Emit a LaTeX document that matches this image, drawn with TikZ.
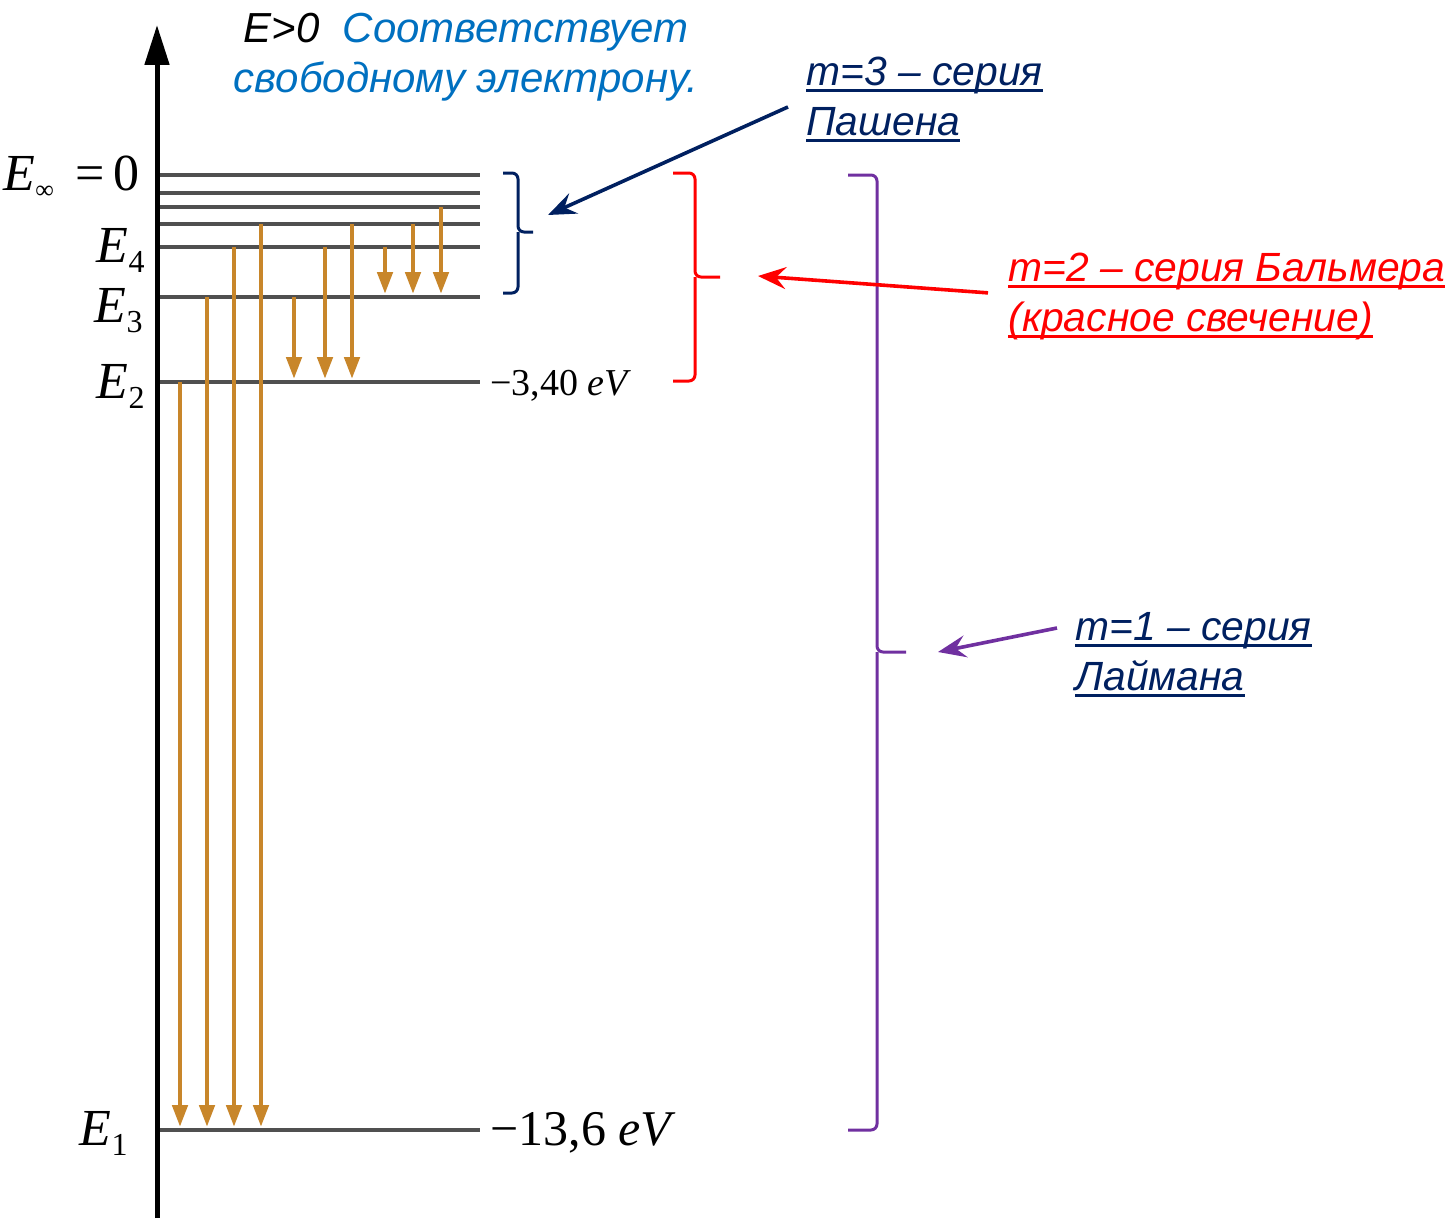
\documentclass[tikz,border=0pt]{standalone}
\usepackage{fontspec}
\setmainfont{Liberation Sans}
\newfontfamily\tms{Liberation Serif}
\usetikzlibrary{arrows.meta,calc,positioning}
\definecolor{navyc}{RGB}{0,32,96}
\definecolor{redc}{RGB}{255,0,0}
\definecolor{purplec}{RGB}{112,48,160}
\definecolor{bluec}{RGB}{0,112,192}
\definecolor{transc}{RGB}{200,134,42}
\definecolor{levelc}{RGB}{80,80,80}
\newsavebox{\ulbox}
\newcommand{\uln}[1]{\sbox{\ulbox}{#1}\rlap{\rule[-3.3pt]{\wd\ulbox}{1.6pt}}\usebox{\ulbox}}
\newcommand{\En}[1]{{\itshape E}\raisebox{-5pt}{\fontsize{16}{16}\selectfont #1}}

\begin{document}
\begin{tikzpicture}[x=0.5pt,y=-0.5pt,
 level/.style={levelc,line width=2pt},
 trans/.style={transc,line width=2.3pt,-{Triangle[length=11pt,width=7.5pt]},shorten >=1.5pt},
 brk/.style={line width=1.5pt,rounded corners=3pt},
 pointer/.style={line width=1.8pt,-{Stealth[length=14pt,width=11pt,inset=5pt]}},
 elab/.style={font=\tms\fontsize{26}{30}\selectfont,inner sep=0pt,anchor=base east},
 ser/.style={font=\fontsize{20.4}{25}\selectfont\itshape,align=left,inner sep=0pt,anchor=north west}]
\useasboundingbox (0,0) rectangle (1455,1220);
% energy axis
\coordinate (ax0) at (157,1218);
\coordinate (ax1) at (157,25);
\draw[line width=2.5pt,-{Triangle[length=20pt,width=12pt]}] (ax0) -- (ax1);
% levels
\foreach \n/\y in {inf/175,a/193,b/207,5/224,4/247,3/297,2/382,1/1130} {
 \coordinate (w\n) at (160,\y);
 \coordinate (e\n) at (480,\y);
 \draw[level] (w\n) -- (e\n);
}
\node[elab] (einf) at (140,190) {{\itshape E}\raisebox{-4pt}{\fontsize{13}{13}\selectfont ∞}\ \,=\,0};
\node[elab] (en4) at (145,262) {\En{4}};
\node[elab] (en3) at (143,322) {\En{3}};
\node[elab] (en2) at (145,398) {\En{2}};
\node[elab] (en1) at (128,1145) {\En{1}};
\node[anchor=base west,inner sep=0pt,font=\tms\fontsize{19}{22}\selectfont] (val2) at (490,395) {−3,40 \textit{eV}};
\node[anchor=base west,inner sep=0pt,font=\tms\fontsize{25}{30}\selectfont] (val1) at (490,1145) {−13,6 \textit{eV}};
% transitions
\foreach \x/\a/\b in {180/2/1,207/3/1,234/4/1,261/5/1,294/3/2,325/4/2,352/5/2,385/4/3,413/5/3,441/b/3}
 \draw[trans] (\x,0 |- w\a) -- (\x,0 |- w\b);
% free electron
\node[font=\fontsize{21}{25}\selectfont\itshape,text=bluec,align=center,inner sep=0pt,anchor=north] (free) at (466,13)
 {{\color{black}E>0}\ \ Соответствует\\свободному электрону.};
% series brackets
\coordinate (pT) at (533,232);
\coordinate (bT) at (720,277);
\coordinate (lT) at (906,652);
\draw[brk,navyc] (503,173) -| (518,232) -- (pT);
\draw[brk,navyc] (503,293) -| (518,232);
\draw[brk,redc] (673,173) -| (695,277) -- (bT);
\draw[brk,redc] (673,381) -| (695,277);
\draw[brk,purplec] (848,175) -| (877,652) -- (lT);
\draw[brk,purplec] (848,1130) -| (877,652);
% series labels
\node[ser,text=navyc] (pash) at (806,57) {\uln{m=3 – серия}\\\uln{Пашена}};
\node[ser,text=redc] (balm) at (1008,253) {\uln{m=2 – серия Бальмера}\\\uln{(красное свечение)}};
\node[ser,text=navyc] (lym) at (1075,612) {\uln{m=1 – серия}\\\uln{Лаймана}};
\coordinate (pashtip) at ($(pT)+(15,-17)$);
\coordinate (balmtip) at ($(bT)+(38,-1)$);
\coordinate (lymtip) at ($(lT)+(32,0)$);
\draw[pointer,navyc] ([shift={(-18,7)}]pash.west) -- (pashtip);
\draw[pointer,redc] ([shift={(-20,-4)}]balm.west) -- (balmtip);
\draw[pointer,purplec] ([shift={(-18,16)}]lym.north west) -- (lymtip);
\end{tikzpicture}
\end{document}
